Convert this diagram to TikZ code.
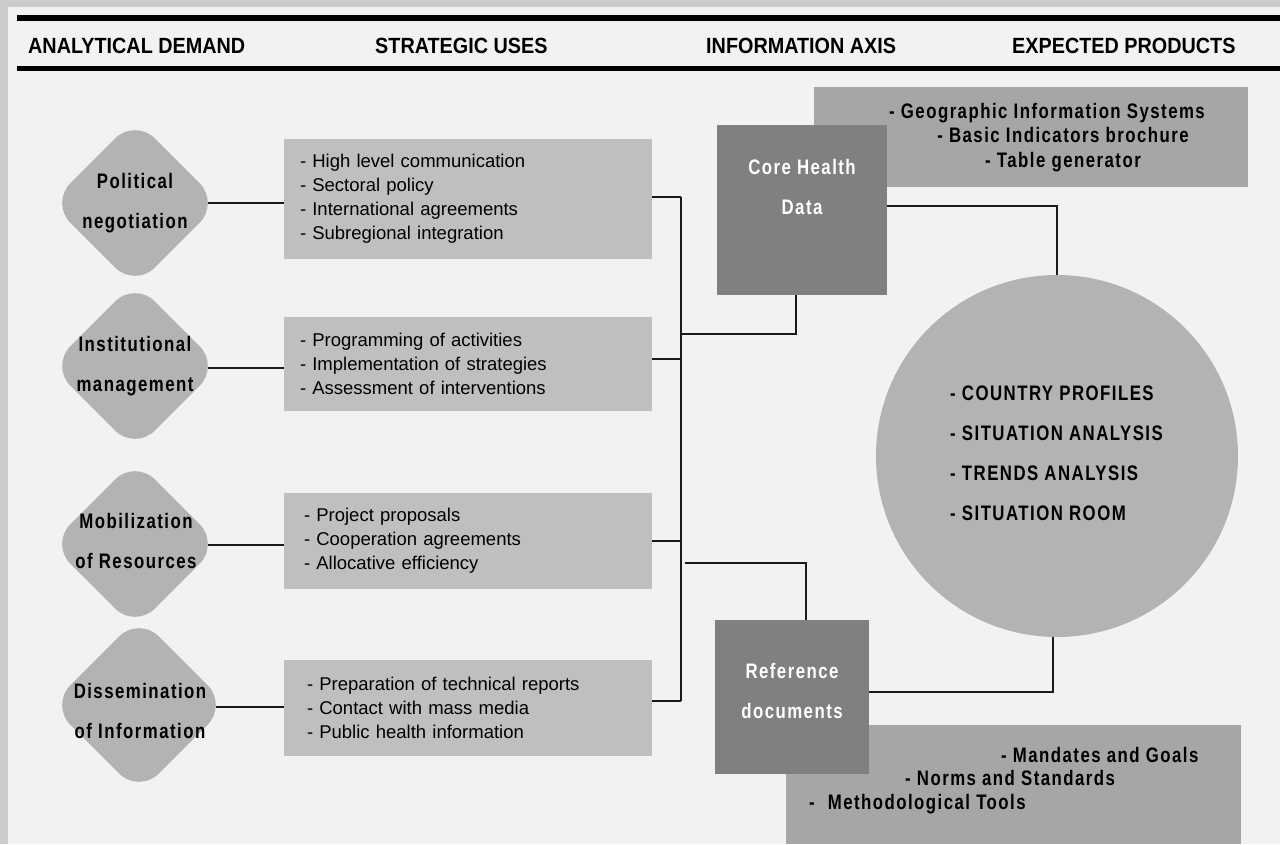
\documentclass[tikz,border=0pt]{standalone}
\usepackage{fontspec}
\setmainfont{Liberation Sans}
\newfontfamily\bfont[FakeStretch=0.8,LetterSpace=7]{Liberation Sans}
\newfontfamily\hfont[FakeStretch=0.9]{Liberation Sans}
\usetikzlibrary{shapes.geometric}
\definecolor{outerbg}{HTML}{CCCCCC}
\definecolor{panel}{HTML}{F2F2F2}
\definecolor{diafill}{HTML}{B3B3B3}
\definecolor{usefill}{HTML}{BFBFBF}
\definecolor{prodfill}{HTML}{A6A6A6}
\definecolor{axisfill}{HTML}{808080}
\definecolor{conn}{HTML}{1A1A1A}
\tikzset{
  demand/.style={diamond, fill=diafill, draw=none, minimum width=169pt, minimum height=169pt, inner sep=0pt, rounded corners=28pt},
  dtext/.style={align=center, inner sep=0pt, font=\bfont\bfseries\fontsize{21}{40}\selectfont},
  usebox/.style={fill=usefill, minimum width=368pt, inner xsep=0pt, align=left, font=\fontsize{18.5}{24}\selectfont},
  axisbox/.style={fill=axisfill, inner sep=0pt},
  axistext/.style={align=center, inner sep=0pt, text=white, font=\bfont\bfseries\fontsize{21}{40}\selectfont},
  prodbox/.style={fill=prodfill, inner sep=0pt},
  prodtext/.style={inner sep=0pt, font=\bfont\bfseries\fontsize{21}{24.5}\selectfont},
  head/.style={anchor=base west, inner sep=0pt, font=\hfont\bfseries\fontsize{22}{26}\selectfont},
  link/.style={draw=conn, line width=1.2pt},
  rule/.style={draw=black, line width=6pt}
}
\begin{document}
\begin{tikzpicture}[x=1pt, y=-1pt]
\useasboundingbox (0,0) rectangle (1280,844);
\fill[outerbg] (0,0) rectangle (1280,844);
\fill[panel] (8,7) rectangle (1280,844);
% header rules
\draw[rule] (17,18) -- (1280,18);
\draw[rule, line width=5.5pt] (17,68.5) -- (1280,68.5);
\node[head] (h1) at (28,53) {ANALYTICAL DEMAND};
\node[head] (h2) at (375,53) {STRATEGIC USES};
\node[head] (h3) at (706,53) {INFORMATION AXIS};
\node[head] (h4) at (1012,53) {EXPECTED PRODUCTS};
% analytical demand
\node[demand] (d1) at (135,203) {};
\node[demand] (d2) at (135,366) {};
\node[demand] (d3) at (135,544) {};
\node[demand, minimum width=177pt, minimum height=177pt] (d4) at (139,705) {};
\node[dtext] (d1t) at (135,203) {Political\\negotiation};
\node[dtext] (d2t) at (135,366) {Institutional\\management};
\node[dtext] (d3t) at (136,541) {Mobilization\\of Resources};
\node[dtext] (d4t) at (140,711) {Dissemination\\of Information};
% strategic uses
\node[usebox, minimum height=120pt, text width=336pt] (b1) at (468,199)
  {- High level communication\\- Sectoral policy\\- International agreements\\- Subregional integration};
\node[usebox, minimum height=94pt, text width=336pt] (b2) at (468,364)
  {- Programming of activities\\- Implementation of strategies\\- Assessment of interventions};
\node[usebox, minimum height=96pt, text width=328pt] (b3) at (468,541)
  {- Project proposals\\- Cooperation agreements\\- Allocative efficiency};
\node[usebox, minimum height=96pt, text width=322pt] (b4) at (468,708)
  {- Preparation of technical reports\\- Contact with mass media\\- Public health information};
% demand -> uses
\draw[link] ([xshift=-11.6pt]d1.east) -- (d1.east -| b1.west);
\draw[link] ([xshift=-11.6pt,yshift=-2pt]d2.east) -- ([yshift=-2pt]d2.east -| b2.west);
\draw[link] ([xshift=-11.6pt,yshift=-1pt]d3.east) -- ([yshift=-1pt]d3.east -| b3.west);
\draw[link] ([xshift=-11.6pt,yshift=-2pt]d4.east) -- ([yshift=-2pt]d4.east -| b4.west);
% bus
\coordinate (bus) at (681,0);
\draw[link] ([yshift=2pt]b1.east) -- ([yshift=2pt]b1.east -| bus);
\draw[link] ([yshift=5pt]b2.east) -- ([yshift=5pt]b2.east -| bus);
\draw[link] (b3.east) -- (b3.east -| bus);
\draw[link] ([yshift=7pt]b4.east) -- ([yshift=7pt]b4.east -| bus);
\draw[link] ([yshift=2pt]b1.east -| bus) -- ([yshift=7pt]b4.east -| bus);
% expected products boxes (behind axis boxes)
\node[prodbox, minimum width=434pt, minimum height=100pt] (p1) at (1031,137) {};
\node[prodbox, minimum width=455pt, minimum height=119pt] (p2) at (1013.5,784.5) {};
% information axis
\node[axisbox, minimum width=170pt, minimum height=170pt] (core) at (802,210) {};
\node[axistext] (coret) at (802,187) {Core Health\\Data};
\node[axisbox, minimum width=154pt, minimum height=154pt] (ref) at (792,697) {};
\node[axistext] (reft) at (792,691) {Reference\\documents};
% product texts
\node[prodtext, align=center] (p1t) at (1063,137.5)
  {- Geographic Information Systems\hspace*{32pt}\\- Basic Indicators brochure\\- Table generator};
\node[prodtext, anchor=base west] (p2a) at (1001,762) {- Mandates and Goals};
\node[prodtext, anchor=base west] (p2b) at (905,785) {- Norms and Standards};
\node[prodtext, anchor=base west] (p2c) at (809,809) {-\hspace{13pt}Methodological Tools};
% circle
\node[circle, fill=diafill, inner sep=0pt, minimum size=362pt] (circ) at (1057,456) {};
\node[align=left, anchor=west, inner sep=0pt, font=\bfont\bfseries\fontsize{21}{40}\selectfont] (circt) at (950,453)
  {- COUNTRY PROFILES\\- SITUATION ANALYSIS\\- TRENDS ANALYSIS\\- SITUATION ROOM};
% bus -> axis
\coordinate (j1) at (681,334);
\coordinate (j2) at (685,563);
\draw[link] (j1) -| ([xshift=-6pt]core.south);
\draw[link] (j2) -| ([xshift=14pt]ref.north);
% axis -> circle
\draw[link] ([yshift=4pt]core.east) -| (circ.north);
\draw[link] ([yshift=5pt]ref.east) -| ([xshift=-4pt]circ.south);
\end{tikzpicture}
\end{document}
